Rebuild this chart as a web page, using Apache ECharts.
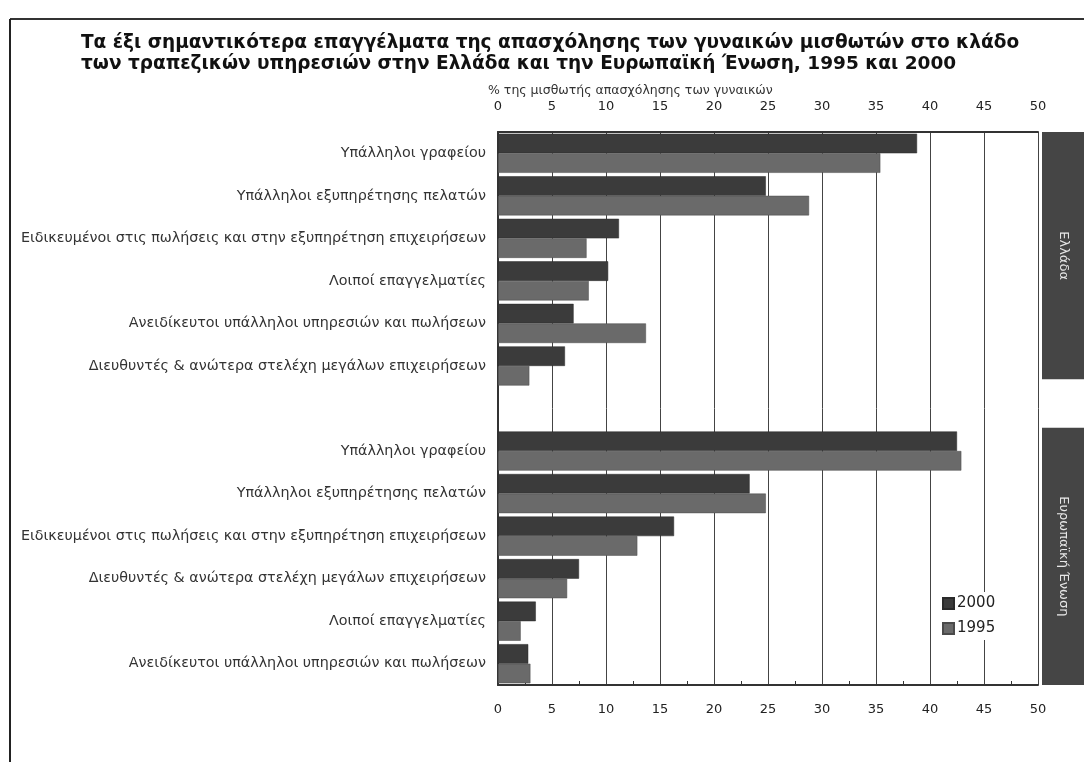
<!DOCTYPE html>
<html>
<head>
<meta charset="utf-8">
<title>Επαγγέλματα γυναικών μισθωτών - τράπεζες</title>
<script src="https://cdn.jsdelivr.net/npm/echarts@6/dist/echarts.min.js"></script>
<style>
  html, body { margin: 0; padding: 0; background: #fff; }
  .chart { width: 1084px; height: 762px; }
</style>
</head>
<body>
<div class="chart"></div>
<script>
// κατηγορίες (Ελλάδα)
var catGreece = [
  "Υπάλληλοι γραφείου",
  "Υπάλληλοι εξυπηρέτησης πελατών",
  "Ειδικευμένοι στις πωλήσεις και στην εξυπηρέτηση επιχειρήσεων",
  "Λοιποί επαγγελματίες",
  "Ανειδίκευτοι υπάλληλοι υπηρεσιών και πωλήσεων",
  "Διευθυντές & ανώτερα στελέχη μεγάλων επιχειρήσεων"
];
// κατηγορίες (ΕΕ)
var catEU = [
  "Υπάλληλοι γραφείου",
  "Υπάλληλοι εξυπηρέτησης πελατών",
  "Ειδικευμένοι στις πωλήσεις και στην εξυπηρέτηση επιχειρήσεων",
  "Διευθυντές & ανώτερα στελέχη μεγάλων επιχειρήσεων",
  "Λοιποί επαγγελματίες",
  "Ανειδίκευτοι υπάλληλοι υπηρεσιών και πωλήσεων"
];
var greece2000 = [38.8, 24.8, 11.2, 10.2, 7.0, 6.2];
var greece1995 = [35.4, 28.8, 8.2, 8.4, 13.7, 2.9];
var eu2000 = [42.5, 23.3, 16.3, 7.5, 3.5, 2.8];
var eu1995 = [42.9, 24.8, 12.9, 6.4, 2.1, 3.0];
var groupNames = ["Ελλάδα", "Ευρωπαϊκή Ένωση"];
var xTicks = [0, 5, 10, 15, 20, 25, 30, 35, 40, 45, 50];

(function () {
  var myChart = echarts.init(document.querySelector(".chart"));

  // ένα κενό slot ανάμεσα στις δύο ομάδες
  var categories = catGreece.concat([""], catEU);
  var data2000 = greece2000.concat([null], eu2000);
  var data1995 = greece1995.concat([null], eu1995);

  var font = "DejaVu Sans";
  var xMin = xTicks[0];
  var xMax = xTicks[xTicks.length - 1];
  var step = xTicks[1] - xTicks[0];

  var option = {
    backgroundColor: "#fff",
    animation: false,
    textStyle: { fontFamily: font },
    title: [
      {
        text: "Τα έξι σημαντικότερα επαγγέλματα της απασχόλησης των γυναικών μισθωτών στο κλάδο\nτων τραπεζικών υπηρεσιών στην Ελλάδα και την Ευρωπαϊκή Ένωση, 1995 και 2000",
        left: 76,
        top: 28,
        textStyle: {
          fontFamily: font,
          fontWeight: "bold",
          fontSize: 18.5,
          lineHeight: 21,
          color: "#111"
        }
      },
      {
        text: "% της μισθωτής απασχόλησης των γυναικών",
        left: 488,
        top: 84,
        padding: 0,
        textStyle: {
          fontFamily: font,
          fontWeight: "normal",
          fontSize: 12.5,
          color: "#333"
        }
      }
    ],
    legend: {
      orient: "vertical",
      left: 938,
      top: 592,
      backgroundColor: "#fff",
      padding: [4, 6, 4, 4],
      itemGap: 10,
      itemWidth: 11,
      itemHeight: 11,
      icon: "rect",
      data: ["2000", "1995"],
      textStyle: { fontFamily: font, fontSize: 15, color: "#222", padding: [0, 0, 0, -2] }
    },
    grid: {
      left: 498,
      right: 46,
      top: 132,
      bottom: 77,
      containLabel: false
    },
    xAxis: [
      {
        type: "value",
        position: "bottom",
        min: xMin,
        max: xMax,
        interval: step,
        axisLine: { show: true, lineStyle: { color: "#333", width: 2 } },
        axisTick: { show: false },
        minorTick: { show: true, splitNumber: 2, length: -4, lineStyle: { color: "#333" } },
        axisLabel: { margin: 18, fontSize: 13, color: "#222", fontFamily: font },
        splitLine: { show: true, lineStyle: { color: "#444", width: 1 } }
      },
      {
        type: "value",
        position: "top",
        min: xMin,
        max: xMax,
        interval: step,
        axisLine: { show: true, lineStyle: { color: "#333", width: 2 } },
        axisTick: { show: false },
        axisLabel: { margin: 19, fontSize: 13, color: "#222", fontFamily: font },
        splitLine: { show: false }
      }
    ],
    yAxis: {
      type: "category",
      inverse: true,
      data: categories,
      axisLine: { show: true, lineStyle: { color: "#333", width: 2 } },
      axisTick: { show: false },
      axisLabel: { margin: 12, fontSize: 14.3, color: "#333", fontFamily: font }
    },
    series: [
      {
        name: "2000",
        type: "bar",
        data: data2000,
        barGap: "0%",
        barCategoryGap: "8%",
        itemStyle: { color: "#3b3b3b", borderColor: "#2a2a2a", borderWidth: 0.5 }
      },
      {
        name: "1995",
        type: "bar",
        data: data1995,
        itemStyle: { color: "#6a6a6a", borderColor: "#4a4a4a", borderWidth: 0.5 }
      }
    ]
  };

  myChart.setOption(option);

  // δεξιά σκούρες λωρίδες με τα ονόματα των ομάδων, θέση από τον άξονα
  function drawStrips () {
    var c0 = myChart.convertToPixel({ yAxisIndex: 0 }, 0);
    var c1 = myChart.convertToPixel({ yAxisIndex: 0 }, 1);
    var band = c1 - c0;
    var xRight = myChart.convertToPixel({ xAxisIndex: 0 }, xMax);
    var stripX = xRight + 4;
    var stripW = myChart.getWidth() - stripX;
    var groups = [
      { name: groupNames[0], from: 0, to: catGreece.length - 1, cut: 8 },
      { name: groupNames[1], from: catGreece.length + 1, to: categories.length - 1, cut: 0 }
    ];
    var elements = [];
    groups.forEach(function (g) {
      var y0 = myChart.convertToPixel({ yAxisIndex: 0 }, g.from) - band / 2 + (g.from > 0 ? -2 : 0);
      var y1 = myChart.convertToPixel({ yAxisIndex: 0 }, g.to) + band / 2 - g.cut;
      elements.push({
        type: "rect",
        shape: { x: stripX, y: y0, width: stripW, height: y1 - y0 },
        style: { fill: "#454545" },
        z: 10
      });
      elements.push({
        type: "text",
        x: stripX + stripW / 2,
        y: (y0 + y1) / 2,
        rotation: -Math.PI / 2,
        style: {
          text: g.name,
          fill: "#e6e6e6",
          font: "13px " + font,
          align: "center",
          verticalAlign: "middle"
        },
        z: 11
      });
    });
    // περίγραμμα της σελίδας (σάρωση)
    elements.push({
      type: "line",
      shape: { x1: 10, y1: 19, x2: myChart.getWidth(), y2: 19 },
      style: { stroke: "#333", lineWidth: 2 },
      z: 10
    });
    elements.push({
      type: "line",
      shape: { x1: 10, y1: 19, x2: 10, y2: myChart.getHeight() },
      style: { stroke: "#222", lineWidth: 2 },
      z: 10
    });
    myChart.setOption({ graphic: { elements: elements } });
  }
  drawStrips();

  window.addEventListener("resize", function () {
    myChart.resize();
    drawStrips();
  });
})();
</script>
</body>
</html>
